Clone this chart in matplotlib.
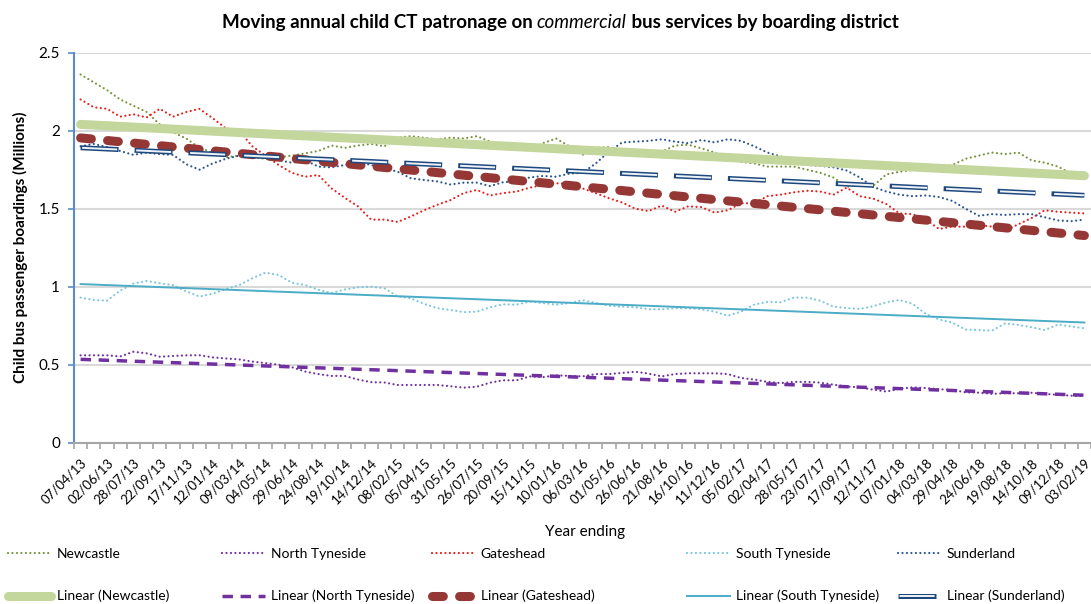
import numpy as np
import matplotlib.pyplot as plt
from matplotlib.legend_handler import HandlerTuple

plt.rcParams['font.family'] = ['Lato', 'DejaVu Sans']

# x-axis labels (every second 4-weekly period)
tick_labels = [
    '07/04/13', '02/06/13', '28/07/13', '22/09/13', '17/11/13', '12/01/14',
    '09/03/14', '04/05/14', '29/06/14', '24/08/14', '19/10/14', '14/12/14',
    '08/02/15', '05/04/15', '31/05/15', '26/07/15', '20/09/15', '15/11/15',
    '10/01/16', '06/03/16', '01/05/16', '26/06/16', '21/08/16', '16/10/16',
    '11/12/16', '05/02/17', '02/04/17', '28/05/17', '23/07/17', '17/09/17',
    '12/11/17', '07/01/18', '04/03/18', '29/04/18', '24/06/18', '19/08/18',
    '14/10/18', '09/12/18', '03/02/19',
]

# moving annual boardings (millions), one value per 4-week period
newcastle = [2.36, 2.31, 2.26, 2.20, 2.16, 2.12, 2.04, 1.99, 1.95, 1.89,
             1.86, 1.83, 1.84, 1.83, 1.82, 1.83, 1.84, 1.855, 1.87, 1.905,
             1.89, 1.905, 1.915, 1.90, 1.955, 1.965, 1.955, 1.945, 1.955, 1.95,
             1.965, 1.93, 1.90, 1.88, 1.88, 1.92, 1.95, 1.90, 1.845, 1.89,
             1.895, 1.87, 1.86, 1.86, 1.865, 1.905, 1.91, 1.887, 1.86, 1.82,
             1.80, 1.79, 1.77, 1.77, 1.77, 1.75, 1.73, 1.70, 1.64, 1.652,
             1.645, 1.72, 1.737, 1.748, 1.755, 1.76, 1.78, 1.82, 1.84, 1.86,
             1.85, 1.86, 1.81, 1.795, 1.77, 1.725, 1.71]

north_tyneside = [0.56, 0.56, 0.56, 0.553, 0.583, 0.573, 0.551, 0.556, 0.56, 0.561,
                  0.547, 0.54, 0.534, 0.52, 0.51, 0.50, 0.484, 0.456, 0.44, 0.428,
                  0.428, 0.405, 0.388, 0.386, 0.37, 0.37, 0.37, 0.37, 0.362, 0.353,
                  0.359, 0.385, 0.40, 0.40, 0.425, 0.42, 0.432, 0.428, 0.425, 0.44,
                  0.44, 0.447, 0.455, 0.443, 0.425, 0.44, 0.445, 0.445, 0.445, 0.44,
                  0.415, 0.405, 0.39, 0.382, 0.39, 0.39, 0.385, 0.372, 0.36, 0.355,
                  0.34, 0.328, 0.345, 0.355, 0.35, 0.343, 0.338, 0.323, 0.321, 0.313,
                  0.317, 0.317, 0.32, 0.313, 0.307, 0.301, 0.30]

gateshead = [2.20, 2.15, 2.14, 2.09, 2.105, 2.085, 2.14, 2.09, 2.12, 2.14,
             2.08, 2.015, 2.00, 1.90, 1.84, 1.78, 1.73, 1.705, 1.716, 1.63,
             1.57, 1.515, 1.43, 1.43, 1.415, 1.45, 1.49, 1.525, 1.555, 1.60,
             1.62, 1.585, 1.60, 1.61, 1.635, 1.652, 1.663, 1.66, 1.63, 1.60,
             1.567, 1.54, 1.50, 1.485, 1.52, 1.48, 1.515, 1.51, 1.475, 1.49,
             1.535, 1.535, 1.58, 1.59, 1.605, 1.615, 1.61, 1.59, 1.635, 1.58,
             1.565, 1.53, 1.47, 1.465, 1.43, 1.37, 1.385, 1.385, 1.395, 1.385,
             1.36, 1.40, 1.44, 1.49, 1.48, 1.475, 1.47]

south_tyneside = [0.93, 0.915, 0.91, 0.975, 1.02, 1.037, 1.022, 1.01, 0.97, 0.937,
                  0.955, 0.985, 1.01, 1.054, 1.09, 1.075, 1.025, 1.011, 0.98, 0.96,
                  0.982, 0.996, 1.00, 0.99, 0.937, 0.926, 0.89, 0.862, 0.851, 0.837,
                  0.84, 0.868, 0.887, 0.885, 0.905, 0.895, 0.885, 0.895, 0.913, 0.896,
                  0.878, 0.872, 0.868, 0.856, 0.855, 0.862, 0.862, 0.855, 0.84, 0.814,
                  0.84, 0.885, 0.903, 0.90, 0.93, 0.93, 0.91, 0.872, 0.863, 0.857,
                  0.875, 0.90, 0.915, 0.89, 0.825, 0.79, 0.77, 0.725, 0.722, 0.718,
                  0.765, 0.755, 0.74, 0.722, 0.758, 0.745, 0.733]

sunderland = [1.90, 1.915, 1.895, 1.87, 1.845, 1.86, 1.85, 1.845, 1.785, 1.75,
              1.79, 1.82, 1.84, 1.835, 1.825, 1.81, 1.795, 1.81, 1.77, 1.765,
              1.78, 1.80, 1.78, 1.76, 1.737, 1.695, 1.684, 1.675, 1.655, 1.667,
              1.667, 1.645, 1.67, 1.675, 1.70, 1.71, 1.705, 1.725, 1.73, 1.79,
              1.865, 1.925, 1.93, 1.935, 1.945, 1.93, 1.92, 1.94, 1.925, 1.945,
              1.935, 1.90, 1.86, 1.835, 1.80, 1.78, 1.775, 1.765, 1.745, 1.70,
              1.64, 1.61, 1.59, 1.58, 1.585, 1.575, 1.55, 1.50, 1.455, 1.465,
              1.46, 1.465, 1.465, 1.445, 1.425, 1.42, 1.43]

x = np.arange(len(newcastle))

fig = plt.figure(figsize=(10.91, 6.04), dpi=100)
ax = fig.add_axes([74 / 1091, 1 - 442.7 / 604, 1017 / 1091, 390 / 604])

dots = (0, (0.01, 2.0))

# raw series (round dots)
l_new, = ax.plot(x, newcastle, color='#77933c', lw=1.6, linestyle=dots, dash_capstyle='round')
l_nt, = ax.plot(x, north_tyneside, color='#7030a0', lw=1.6, linestyle=dots, dash_capstyle='round')
l_gat, = ax.plot(x, gateshead, color='#e3201c', lw=1.6, linestyle=dots, dash_capstyle='round')
l_st, = ax.plot(x, south_tyneside, color='#78c6de', lw=1.6, linestyle=dots, dash_capstyle='round')
l_sun, = ax.plot(x, sunderland, color='#2a5590', lw=1.6, linestyle=dots, dash_capstyle='round')

# linear trend lines
def trend(vals):
    k, b = np.polyfit(x, vals, 1)
    return k * x + b

t_new, = ax.plot(x, trend(newcastle), color='#c3d69b', lw=6.5, solid_capstyle='round')
t_nt, = ax.plot(x, trend(north_tyneside), color='#7030a0', lw=2.5, linestyle=(0, (3, 2.2)))
t_gat, = ax.plot(x, trend(gateshead), color='#953735', lw=6.5,
                 linestyle=(0, (1.2, 1.8)), dash_capstyle='round')
t_st, = ax.plot(x, trend(south_tyneside), color='#4bacc6', lw=1.4)
t_sun_o, = ax.plot(x, trend(sunderland), color='#1f497d', lw=3.6, linestyle=(0, (7.6, 3.2)))
t_sun_i, = ax.plot(x, trend(sunderland), color='#eef3fa', lw=1.4,
                   linestyle=(27.0, (18.0, 9.8)))

ax.set_xlim(-0.5, 75.97)
ax.set_ylim(0, 2.5)
ax.set_yticks([0, 0.5, 1, 1.5, 2, 2.5])
ax.set_yticklabels(['0', '0.5', '1', '1.5', '2', '2.5'], fontsize=11)
ax.yaxis.grid(True, color='#d9d9d9', lw=1.5)
ax.set_axisbelow(True)

ax.set_xticks(x[::2])
ax.set_xticklabels(tick_labels, rotation=45, ha='right', rotation_mode='anchor',
                   fontsize=9.5)
ax.set_xticks(np.arange(-0.5, len(x), 1), minor=True)
ax.tick_params(axis='x', which='major', length=0, pad=10)
ax.tick_params(axis='x', which='minor', length=4, color='#a6a6a6', width=1.2)
ax.tick_params(axis='y', length=4, color='#5b8bc9', width=1.2, pad=6)

for s in ['top', 'right']:
    ax.spines[s].set_visible(False)
ax.spines['left'].set_color('#5b8bc9')
ax.spines['left'].set_linewidth(1.5)
ax.spines['bottom'].set_color('#a6a6a6')
ax.spines['bottom'].set_linewidth(1.5)

fig.text(20 / 1091, 1 - 247 / 604, 'Child bus passenger boardings (Millions)',
         rotation=90, ha='center', va='center', fontsize=11, fontweight='bold')
fig.text(585 / 1091, 1 - 532 / 604, 'Year ending', ha='center', va='center', fontsize=11)

# title with italic word
ty = 1 - 28 / 604
t1 = fig.text(0.2, ty, 'Moving annual child CT patronage on ', fontsize=13.5, fontweight='bold')
t2 = fig.text(0, 0, 'commercial', fontsize=13.5, fontstyle='italic')
t3 = fig.text(0, 0, ' bus services by boarding district', fontsize=13.5, fontweight='bold')
r = fig.canvas.get_renderer()
w1 = t1.get_window_extent(r).width
w2 = t2.get_window_extent(r).width
w3 = t3.get_window_extent(r).width
x0 = (560 - (w1 + w2 + w3) / 2) / 1091
t1.set_x(x0)
t2.set_position((x0 + w1 / 1091, ty))
t3.set_position((x0 + (w1 + w2) / 1091, ty))

# legends: five columns of (series, trend)
groups = [
    (l_new, 'Newcastle', t_new, 'Linear (Newcastle)', 8),
    (l_nt, 'North Tyneside', t_nt, 'Linear (North Tyneside)', 222),
    (l_gat, 'Gateshead', t_gat, 'Linear (Gateshead)', 432),
    (l_st, 'South Tyneside', t_st, 'Linear (South Tyneside)', 687),
    (l_sun, 'Sunderland', (t_sun_o, t_sun_i), 'Linear (Sunderland)', 898),
]
for h1, lab1, h2, lab2, px in groups:
    leg = fig.legend([h1, h2], [lab1, lab2], loc='upper left',
                     bbox_to_anchor=(px / 1091, 1 - 548 / 604), frameon=False,
                     fontsize=10, handlelength=3.1, handletextpad=0.4,
                     labelspacing=2.15, borderpad=0, borderaxespad=0,
                     handler_map={tuple: HandlerTuple(ndivide=1)})

fig.savefig('out.png', dpi=100)
